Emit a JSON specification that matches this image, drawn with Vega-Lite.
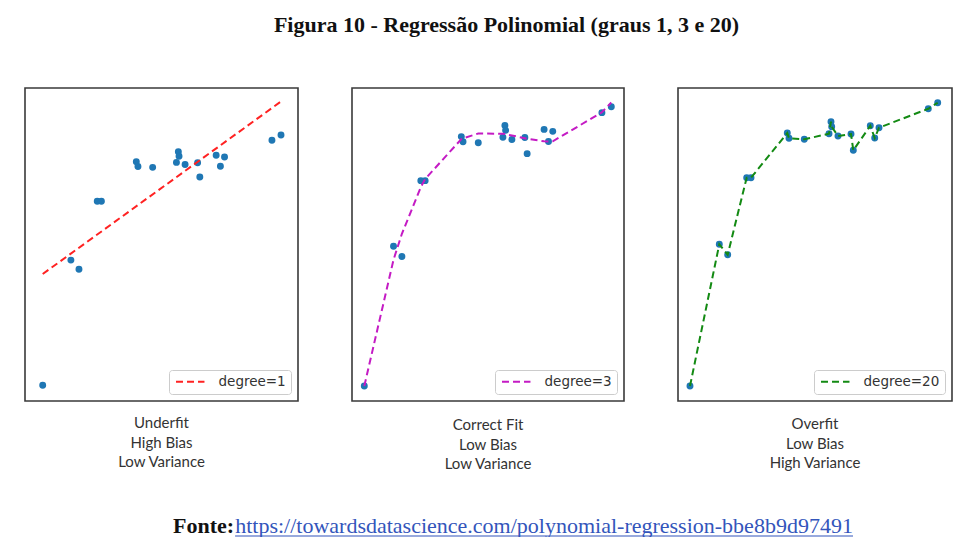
{
  "$schema": "https://vega.github.io/schema/vega-lite/v6.json",
  "background": "white",
  "padding": {"left": 24, "top": 14, "right": 0, "bottom": 0},
  "title": {
    "text": "Figura 10 - Regressão Polinomial (graus 1, 3 e 20)",
    "font": "Liberation Serif", "fontSize": 22, "fontWeight": "bold", "color": "#111111",
    "anchor": "middle", "dx": 18, "offset": 50
  },
  "datasets": {
    "pts": [
      {"x": 0, "y": 0},
      {"x": 0.1183, "y": 0.5002},
      {"x": 0.1522, "y": 0.4635},
      {"x": 0.2289, "y": 0.7353},
      {"x": 0.2463, "y": 0.7353},
      {"x": 0.3928, "y": 0.893},
      {"x": 0.3997, "y": 0.8743},
      {"x": 0.4614, "y": 0.8708},
      {"x": 0.5612, "y": 0.8906},
      {"x": 0.5692, "y": 0.9329},
      {"x": 0.5721, "y": 0.9153},
      {"x": 0.5975, "y": 0.8825},
      {"x": 0.65, "y": 0.8895},
      {"x": 0.6593, "y": 0.832},
      {"x": 0.7279, "y": 0.9188},
      {"x": 0.7457, "y": 0.8754},
      {"x": 0.763, "y": 0.9118},
      {"x": 0.962, "y": 0.9788},
      {"x": 1, "y": 1}
    ],
    "fit1": [
      {"x": 0, "y": 0.4447},
      {"x": 1, "y": 1.134}
    ],
    "fit3": [
      {"x": 0, "y": 0},
      {"x": 0.1183, "y": 0.452},
      {"x": 0.1522, "y": 0.545},
      {"x": 0.2289, "y": 0.712},
      {"x": 0.2463, "y": 0.741},
      {"x": 0.3928, "y": 0.884},
      {"x": 0.3997, "y": 0.887},
      {"x": 0.4614, "y": 0.904},
      {"x": 0.5612, "y": 0.903},
      {"x": 0.5692, "y": 0.902},
      {"x": 0.5721, "y": 0.901},
      {"x": 0.5975, "y": 0.897},
      {"x": 0.65, "y": 0.887},
      {"x": 0.6593, "y": 0.885},
      {"x": 0.7279, "y": 0.876},
      {"x": 0.7457, "y": 0.875},
      {"x": 0.763, "y": 0.876},
      {"x": 0.962, "y": 0.98},
      {"x": 1, "y": 1.015}
    ],
    "fonte": [
      {"label": "Fonte:", "url": "https://towardsdatascience.com/polynomial-regression-bbe8b9d97491", "start": 0, "mid": 0.5, "end": 1}
    ]
  },
  "spacing": 42,
  "vconcat": [
    {
      "spacing": 52,
      "resolve": {
        "scale": {"x": "independent", "y": "independent", "color": "independent"},
        "legend": {"color": "independent"}
      },
      "hconcat": [
        {
          "width": 273, "height": 313,
          "title": {"text": ["Underfit", "High Bias", "Low Variance"], "orient": "bottom", "anchor": "middle", "font": "Lato", "fontSize": 15, "fontWeight": "normal", "color": "#333333", "lineHeight": 19.5, "offset": 15},
          "layer": [
            {
              "data": {"name": "pts"},
              "mark": {"type": "circle", "size": 48, "color": "#1f77b4", "opacity": 1},
              "encoding": {
                "x": {"field": "x", "type": "quantitative", "scale": {"domain": [-0.0743, 1.0713], "nice": false, "zero": false}, "axis": null},
                "y": {"field": "y", "type": "quantitative", "scale": {"domain": [-0.0627, 1.1878], "nice": false, "zero": false}, "axis": null}
              }
            },
            {
              "data": {"name": "fit1"},
              "mark": {"type": "line", "strokeWidth": 2, "strokeDash": [7, 4]},
              "encoding": {
                "x": {"field": "x", "type": "quantitative"},
                "y": {"field": "y", "type": "quantitative"},
                "color": {"datum": "degree=1", "type": "nominal", "scale": {"range": ["#ff2222"]},
                  "legend": {"orient": "bottom-right", "offset": 7, "title": null, "padding": 5, "fillColor": "white", "strokeColor": "#cccccc", "cornerRadius": 3, "symbolType": "M-1,0H5", "symbolSize": 90, "symbolStrokeWidth": 2, "symbolDash": [7, 4], "labelFont": "DejaVu Sans", "labelFontSize": 13.5, "labelColor": "#333333", "labelOffset": 31}}
              }
            }
          ]
        },
        {
          "width": 272, "height": 313,
          "title": {"text": ["Correct Fit", "Low Bias", "Low Variance"], "orient": "bottom", "anchor": "middle", "font": "Lato", "fontSize": 15, "fontWeight": "normal", "color": "#333333", "lineHeight": 19.5, "offset": 17},
          "layer": [
            {
              "data": {"name": "pts"},
              "mark": {"type": "circle", "size": 48, "color": "#1f77b4", "opacity": 1},
              "encoding": {
                "x": {"field": "x", "type": "quantitative", "scale": {"domain": [-0.0498, 1.0514], "nice": false, "zero": false}, "axis": null},
                "y": {"field": "y", "type": "quantitative", "scale": {"domain": [-0.0537, 1.067], "nice": false, "zero": false}, "axis": null}
              }
            },
            {
              "data": {"name": "fit3"},
              "mark": {"type": "line", "strokeWidth": 2, "strokeDash": [7, 4]},
              "encoding": {
                "x": {"field": "x", "type": "quantitative"},
                "y": {"field": "y", "type": "quantitative"},
                "color": {"datum": "degree=3", "type": "nominal", "scale": {"range": ["#c41bc4"]},
                  "legend": {"orient": "bottom-right", "offset": 7, "title": null, "padding": 5, "fillColor": "white", "strokeColor": "#cccccc", "cornerRadius": 3, "symbolType": "M-1,0H5", "symbolSize": 90, "symbolStrokeWidth": 2, "symbolDash": [7, 4], "labelFont": "DejaVu Sans", "labelFontSize": 13.5, "labelColor": "#333333", "labelOffset": 31}}
              }
            }
          ]
        },
        {
          "width": 274, "height": 313,
          "title": {"text": ["Overfit", "Low Bias", "High Variance"], "orient": "bottom", "anchor": "middle", "font": "Lato", "fontSize": 15, "fontWeight": "normal", "color": "#333333", "lineHeight": 19.5, "offset": 16},
          "layer": [
            {
              "data": {"name": "pts"},
              "mark": {"type": "circle", "size": 48, "color": "#1f77b4", "opacity": 1},
              "encoding": {
                "x": {"field": "x", "type": "quantitative", "scale": {"domain": [-0.0484, 1.0577], "nice": false, "zero": false}, "axis": null},
                "y": {"field": "y", "type": "quantitative", "scale": {"domain": [-0.053, 1.052], "nice": false, "zero": false}, "axis": null}
              }
            },
            {
              "data": {"name": "pts"},
              "mark": {"type": "line", "strokeWidth": 2, "strokeDash": [7, 4]},
              "encoding": {
                "x": {"field": "x", "type": "quantitative"},
                "y": {"field": "y", "type": "quantitative"},
                "color": {"datum": "degree=20", "type": "nominal", "scale": {"range": ["#138a13"]},
                  "legend": {"orient": "bottom-right", "offset": 7, "title": null, "padding": 5, "fillColor": "white", "strokeColor": "#cccccc", "cornerRadius": 3, "symbolType": "M-1,0H5", "symbolSize": 90, "symbolStrokeWidth": 2, "symbolDash": [7, 4], "labelFont": "DejaVu Sans", "labelFontSize": 13.5, "labelColor": "#333333", "labelOffset": 31}}
              }
            }
          ]
        }
      ]
    },
    {
      "width": 828, "height": 6,
      "view": {"stroke": null},
      "data": {"name": "fonte"},
      "encoding": {
        "x": {"field": "mid", "type": "quantitative", "scale": {"domain": [-0.34, 1], "nice": false, "zero": false}, "axis": null}
      },
      "layer": [
        {
          "mark": {"type": "text", "font": "Liberation Serif", "fontSize": 22, "color": "#3355bb", "baseline": "alphabetic", "align": "center"},
          "encoding": {"text": {"field": "url"}}
        },
        {
          "mark": {"type": "text", "font": "Liberation Serif", "fontSize": 22, "fontWeight": "bold", "color": "#111111", "baseline": "alphabetic", "align": "right", "dx": -1},
          "encoding": {"x": {"field": "start", "type": "quantitative"}, "text": {"field": "label"}}
        },
        {
          "mark": {"type": "rule", "color": "#3355bb", "strokeWidth": 1.2, "yOffset": 3},
          "encoding": {"x": {"field": "start", "type": "quantitative"}, "x2": {"field": "end"}}
        }
      ]
    }
  ],
  "config": {
    "view": {"stroke": "#3a3a3a", "strokeWidth": 1.6}
  }
}
